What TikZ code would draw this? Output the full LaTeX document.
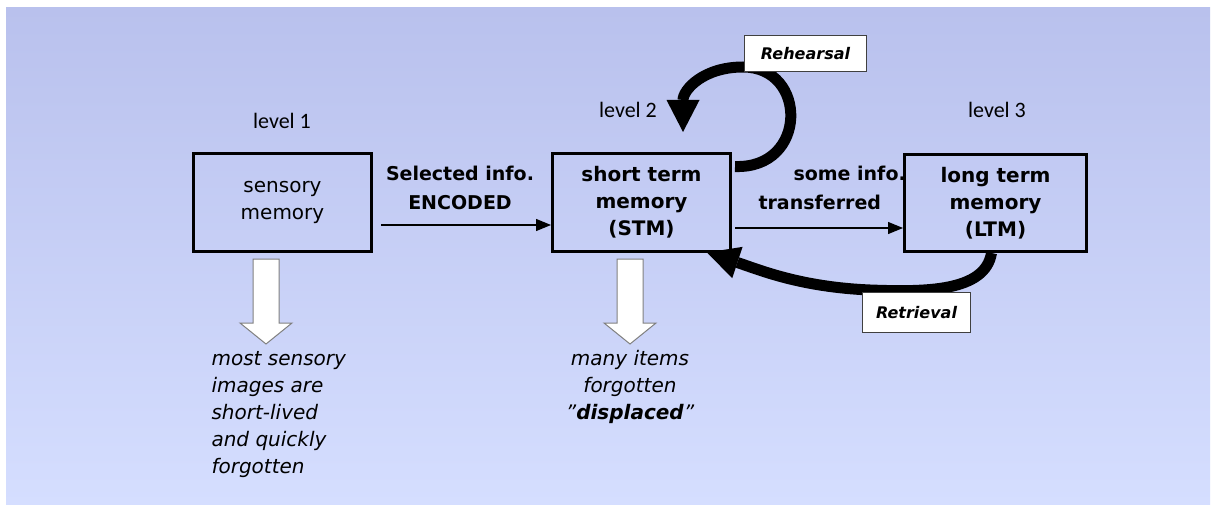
\documentclass[tikz,border=0pt]{standalone}
\usepackage{fontspec}
\setmainfont{DejaVu Sans}
\newfontfamily\levelfont{Carlito}
\usetikzlibrary{arrows.meta}

\definecolor{bgtop}{RGB}{185,193,237}
\definecolor{bgbot}{RGB}{213,222,255}

\tikzset{
  membox/.style={draw=black,line width=3pt,minimum width=178pt,minimum height=97pt,
    align=center,font=\fontsize{20}{27}\selectfont},
  lvl/.style={font=\levelfont\fontsize{22}{26}\selectfont},
  flowlabel/.style={font=\bfseries\fontsize{19}{29}\selectfont},
  note/.style={font=\itshape\fontsize{20}{27}\selectfont},
  tag/.style={draw=black!75,line width=1pt,fill=white,font=\bfseries\itshape\fontsize{16}{18}\selectfont},
  thinarrow/.style={line width=1.2pt,-{Triangle[length=15pt,width=12pt]}},
  fatarrow/.style={line width=11pt,-{Triangle[length=32pt,width=33pt,line width=0pt]}},
  fade/.style={draw=black!50,line width=1pt,fill=white}
}

\begin{document}
\begin{tikzpicture}[x=1pt,y=-1pt]
    \fill[white] (0,0) rectangle (1214,505);
    \useasboundingbox (0,0) rectangle (1214,505);
    \shade[top color=bgtop,bottom color=bgbot] (6,8) rectangle (1210,505);

    % the three stores
    \node[membox] (sens) at (282.5,202.5) {sensory\\memory};
    \node[membox,font=\bfseries\fontsize{20}{27}\selectfont] (stm) at (641.5,202.5) {short term\\memory\\(STM)};
    \node[membox,minimum width=182pt,font=\bfseries\fontsize{20}{27}\selectfont] (ltm) at (995.5,203) {long term\\memory\\(LTM)};

    \node[lvl] (lvl1) at (282,121) {level 1};
    \node[lvl] (lvl2) at (628,110) {level 2};
    \node[lvl] (lvl3) at (997,110) {level 3};

    % flow between stores
    \draw[thinarrow] ([xshift=8pt,yshift=-22.5pt]sens.east) -- ([yshift=-22.5pt]stm.west);
    \draw[thinarrow] ([xshift=3pt,yshift=-25.5pt]stm.east) -- ([yshift=-25pt]ltm.west);
    \node[flowlabel,align=center] (enc) at (460,188) {Selected info.\\ENCODED};
    \node[flowlabel,align=left,anchor=west] (trans) at (755,188) {\hspace*{35pt}some info.\\transferred};

    % loops
    \coordinate (rehTip) at (683,132);
    \draw[fatarrow] ([xshift=3pt,yshift=-14pt]stm.north east) .. controls (808,169) and (808,67) .. (743,67)
        .. controls (703,67) and (683,90) .. (rehTip);
    \draw[fatarrow] ([xshift=-4pt]ltm.south) .. controls (985,292) and (925,292) .. (870,290)
        .. controls (800,287) and (760,270) .. ([xshift=-25pt]stm.south east);
    \node[tag,minimum width=122pt,minimum height=36pt] (reh) at (805.5,53.5) {Rehearsal};
    \node[tag,minimum width=108pt,minimum height=40pt] (ret) at (916.5,312.5) {Retrieval};

    % forgetting
    \draw[fade] (253,259) -- (279,259) -- (279,323) -- (292,323) -- (266,344) -- (240,323) -- (253,323) -- cycle;
    \draw[fade] (617,259) -- (643,259) -- (643,323) -- (656,323) -- (630,344) -- (604,323) -- (617,323) -- cycle;
    \node[note,align=left,anchor=west] (lost1) at (208,414.5) {most sensory\\images are\\short-lived\\and quickly\\forgotten};
    \node[note,align=center] (lost2) at (630,387) {many items\\forgotten\\"\textbf{displaced}"};
\end{tikzpicture}
\end{document}
